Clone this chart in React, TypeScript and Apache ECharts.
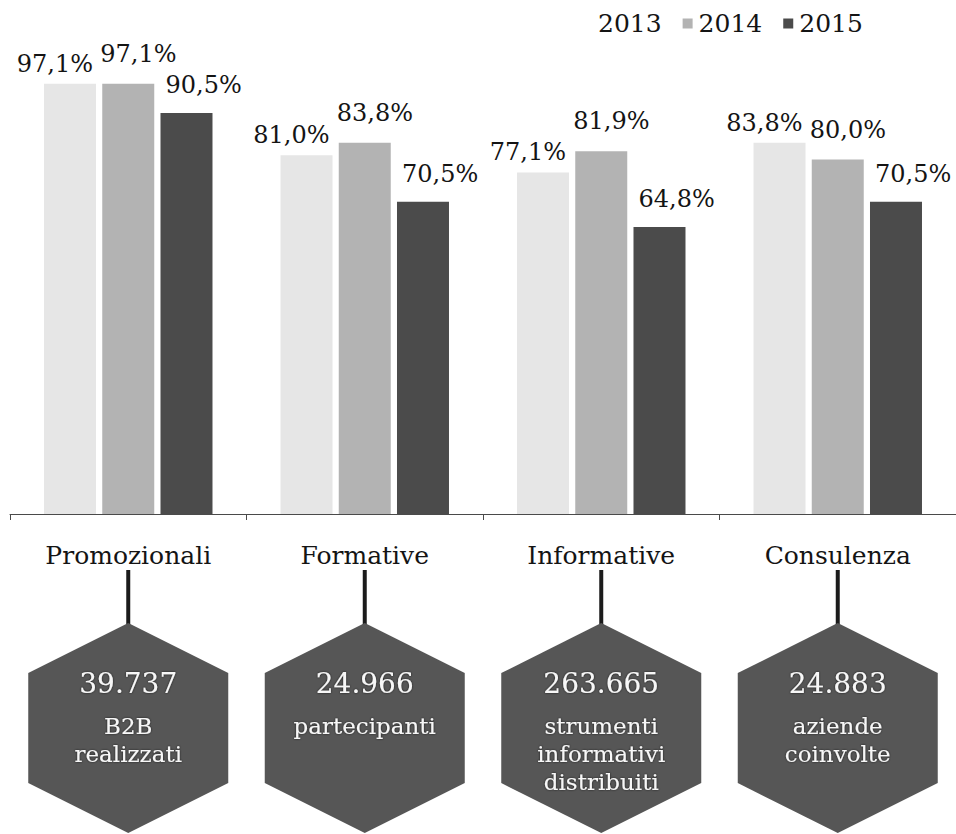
import { useEffect, useRef } from "react";
import * as echarts from "echarts";

// Share of activities per service area, by year (%)
const categories = ["Promozionali", "Formative", "Informative", "Consulenza"];
const years = ["2013", "2014", "2015"];
const values2013 = [97.1, 81.0, 77.1, 83.8];
const values2014 = [97.1, 83.8, 81.9, 80.0];
const values2015 = [90.5, 70.5, 64.8, 70.5];

// Totals shown in the hexagon under each area
const totals = [39737, 24966, 263665, 24883];
const totalCaptions = [
  ["B2B", "realizzati"],
  ["partecipanti"],
  ["strumenti", "informativi", "distribuiti"],
  ["aziende", "coinvolte"],
];

const FONT = "DejaVu Serif";
const TEXT = "#141414";

const pct = (v: number) => v.toFixed(1).replace(".", ",") + "%";
const thousands = (n: number) => String(n).replace(/\B(?=(\d{3})+(?!\d))/g, ".");

export default function App() {
  const ref = useRef<HTMLDivElement>(null);

  useEffect(() => {
    if (!ref.current) return;
    const chart = echarts.init(ref.current, undefined, { renderer: "svg" });

    const labelBase = {
      show: true,
      fontFamily: FONT,
      fontSize: 24,
      color: TEXT,
      verticalAlign: "bottom" as const,
      formatter: (p: any) => pct(p.value),
    };

    chart.setOption({
      animation: false,
      backgroundColor: "#ffffff",
      legend: {
        left: 577,
        top: 6,
        itemWidth: 10,
        itemHeight: 10,
        itemGap: 21,
        icon: "rect",
        textStyle: { fontFamily: FONT, fontSize: 25, color: TEXT, padding: [0, 0, 0, 1] },
        data: [
          { name: years[0], itemStyle: { opacity: 0 } },
          { name: years[1] },
          { name: years[2] },
        ],
      },
      grid: { left: 10, right: 0, top: 71, bottom: 320, containLabel: false },
      xAxis: {
        type: "category",
        data: categories,
        axisLine: { lineStyle: { color: "#4a4a4a", width: 1 } },
        axisTick: { show: true, length: 6, lineStyle: { color: "#4a4a4a" } },
        axisLabel: { fontFamily: FONT, fontSize: 25, color: TEXT, margin: 29 },
      },
      yAxis: { type: "value", min: 0, max: 100, show: false, splitLine: { show: false } },
      series: [
        {
          name: years[0],
          type: "bar",
          data: values2013,
          barWidth: 52,
          barGap: "12%",
          itemStyle: { color: "#e6e6e6" },
          label: { ...labelBase, position: ["100%", 0], align: "right", offset: [-3, -8] },
        },
        {
          name: years[1],
          type: "bar",
          data: values2014,
          barWidth: 52,
          barGap: "12%",
          itemStyle: { color: "#b3b3b3" },
          label: { ...labelBase, position: [0, 0], align: "left", offset: [-2, -18] },
        },
        {
          name: years[2],
          type: "bar",
          data: values2015,
          barWidth: 52,
          barGap: "12%",
          itemStyle: { color: "#4b4b4b" },
          label: { ...labelBase, position: [0, 0], align: "left", offset: [5, -16] },
        },
        {
          name: "totali",
          type: "custom",
          silent: true,
          clip: false,
          data: totals.map((v, i) => [i, 0, v]),
          encode: { x: 0, y: 1 },
          renderItem: (params: any, api: any) => {
            const i = api.value(0);
            const [cx, y0] = api.coord([i, 0]);
            const stemTop = y0 + 56;
            const hexTop = y0 + 109;
            const hw = 100;
            const shoulder = 50;
            const side = 110;
            const points = [
              [cx, hexTop],
              [cx + hw, hexTop + shoulder],
              [cx + hw, hexTop + shoulder + side],
              [cx, hexTop + 2 * shoulder + side],
              [cx - hw, hexTop + shoulder + side],
              [cx - hw, hexTop + shoulder],
            ];
            const captions = totalCaptions[params.dataIndex] || [];
            const textCommon = {
              fontFamily: FONT,
              fill: "#f7f7f7",
              align: "center",
              verticalAlign: "middle",
              textShadowColor: "rgba(0,0,0,0.7)",
              textShadowBlur: 2,
            };
            return {
              type: "group",
              children: [
                {
                  type: "rect",
                  shape: { x: cx - 2, y: stemTop, width: 4, height: hexTop - stemTop + 2 },
                  style: { fill: "#1b1b1b" },
                },
                {
                  type: "polygon",
                  shape: { points },
                  style: { fill: "#565656" },
                },
                {
                  type: "text",
                  style: { ...textCommon, text: thousands(api.value(2)), x: cx, y: hexTop + 60, fontSize: 28 },
                },
                ...captions.map((t: string, k: number) => ({
                  type: "text",
                  style: { ...textCommon, text: t, x: cx, y: hexTop + 103 + k * 28, fontSize: 23 },
                })),
              ],
            };
          },
        },
      ],
    });

    return () => chart.dispose();
  }, []);

  return (
    <div
      ref={ref}
      style={{ position: "absolute", left: 0, top: 0, width: 956, height: 834, background: "#fff" }}
    />
  );
}
